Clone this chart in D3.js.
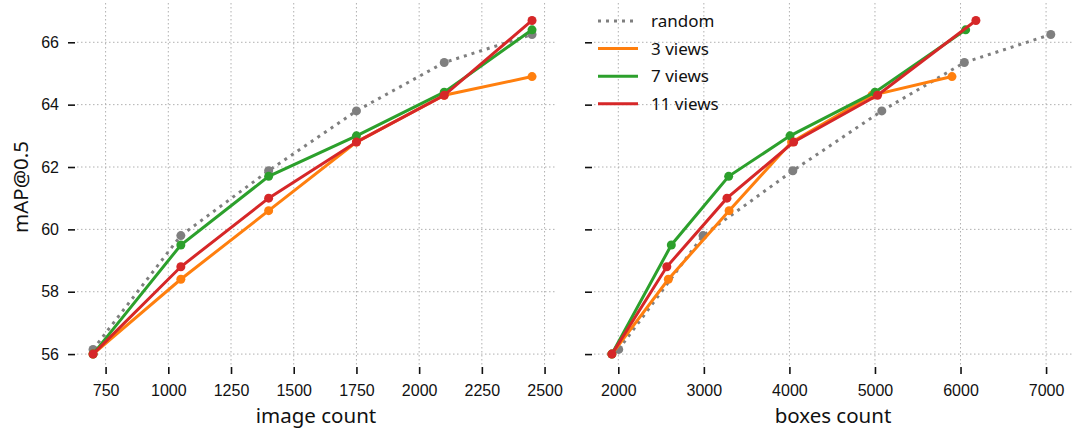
<!DOCTYPE html>
<html>
<head>
<meta charset="utf-8">
<script src="https://cdn.jsdelivr.net/npm/d3@7"></script>
<style>
  body { margin: 0; background: #fff; }
  svg { font-family: "Noto Sans", "Open Sans", sans-serif; }
</style>
</head>
<body>
<div id="wrapper"></div>
<script>
// Data
const seriesNames = ["random", "3 views", "7 views", "11 views"];
const seriesColors = ["#7f7f7f", "#ff7f0e", "#2ca02c", "#d62728"];
const imageCounts = [700, 1050, 1400, 1750, 2100, 2450];
const mapRandom = [56.15, 59.8, 61.88, 63.8, 65.35, 66.25];
const map3Views = [56.0, 58.4, 60.6, 62.8, 64.3, 64.9];
const map7Views = [56.0, 59.5, 61.7, 63.0, 64.4, 66.4];
const map11Views = [56.0, 58.8, 61.0, 62.8, 64.3, 66.7];
const boxesRandom = [2005, 2990, 4040, 5080, 6045, 7055];
const boxes3Views = [1925, 2585, 3295, 4025, 4965, 5900];
const boxes7Views = [1925, 2620, 3290, 4007, 5000, 6060];
const boxes11Views = [1925, 2567, 3270, 4050, 5030, 6180];
const yTicks = [56, 58, 60, 62, 64, 66];
const imageTicks = [750, 1000, 1250, 1500, 1750, 2000, 2250, 2500];
const boxesTicks = [2000, 3000, 4000, 5000, 6000, 7000];

const drawChart = () => {
    const width = 1073;
    const height = 437;

    const wrapper = d3.select("#wrapper")
        .append("svg")
        .attr("width", width)
        .attr("height", height);

    const yScale = d3.scaleLinear()
        .domain([55.65, 67.26])
        .range([365, 3]);

    const mapValues = [mapRandom, map3Views, map7Views, map11Views];

    const panels = [
        {
            left: 77, right: 555,
            domain: [636, 2541.6],
            ticks: imageTicks,
            label: "image count",
            xs: [imageCounts, imageCounts, imageCounts, imageCounts],
            yLabels: true,
        },
        {
            left: 594, right: 1072,
            domain: [1716, 7303],
            ticks: boxesTicks,
            label: "boxes count",
            xs: [boxesRandom, boxes3Views, boxes7Views, boxes11Views],
            yLabels: false,
        },
    ];

    panels.forEach(p => {
        const xScale = d3.scaleLinear()
            .domain(p.domain)
            .range([p.left, p.right]);

        const g = wrapper.append("g");

        // grid
        g.append("g").selectAll("line.v").data(p.ticks).join("line")
            .attr("x1", d => xScale(d)).attr("x2", d => xScale(d))
            .attr("y1", 3).attr("y2", 365)
            .attr("stroke", "#b0b0b0").attr("stroke-width", 1)
            .attr("stroke-dasharray", "1.5,2.5");
        g.append("g").selectAll("line.h").data(yTicks).join("line")
            .attr("x1", p.left).attr("x2", p.right)
            .attr("y1", d => yScale(d)).attr("y2", d => yScale(d))
            .attr("stroke", "#b0b0b0").attr("stroke-width", 1)
            .attr("stroke-dasharray", "1.5,2.5");

        // x axis
        const xAxis = g.append("g")
            .attr("transform", "translate(0, 367)")
            .call(d3.axisBottom(xScale).tickValues(p.ticks).tickSize(7).tickPadding(11).tickFormat(d3.format("d")));
        xAxis.select(".domain").remove();
        xAxis.selectAll(".tick line").attr("stroke", "#111").attr("stroke-width", 1.6);
        xAxis.selectAll(".tick text").attr("fill", "#111").style("font-size", "16px");

        // y axis
        const yAxisGenerator = d3.axisLeft(yScale).tickValues(yTicks).tickSize(7).tickPadding(9);
        if (!p.yLabels) yAxisGenerator.tickFormat("");
        const yAxis = g.append("g")
            .attr("transform", `translate(${p.left - 2}, 0)`)
            .call(yAxisGenerator);
        yAxis.select(".domain").remove();
        yAxis.selectAll(".tick line").attr("stroke", "#111").attr("stroke-width", 1.6);
        yAxis.selectAll(".tick text").attr("fill", "#111").style("font-size", "16px");

        // x label
        g.append("text")
            .attr("x", (p.left + p.right) / 2)
            .attr("y", 423)
            .attr("text-anchor", "middle")
            .attr("fill", "#111")
            .style("font-size", "20.5px")
            .text(p.label);

        // lines
        const line = d3.line()
            .x(d => xScale(d[0]))
            .y(d => yScale(d[1]));

        seriesNames.forEach((name, i) => {
            const pts = p.xs[i].map((x, j) => [x, mapValues[i][j]]);
            g.append("path")
                .datum(pts)
                .attr("d", line)
                .attr("fill", "none")
                .attr("stroke", seriesColors[i])
                .attr("stroke-width", 3)
                .attr("stroke-dasharray", i === 0 ? "3,5" : null);
            g.append("g").selectAll("circle").data(pts).join("circle")
                .attr("cx", d => xScale(d[0]))
                .attr("cy", d => yScale(d[1]))
                .attr("r", 4.5)
                .attr("fill", seriesColors[i]);
        });
    });

    // y label
    wrapper.append("text")
        .attr("transform", "translate(28, 187) rotate(-90)")
        .attr("text-anchor", "middle")
        .attr("fill", "#111")
        .style("font-size", "20.5px")
        .text("mAP@0.5");

    // legend
    const legend = wrapper.append("g")
        .attr("transform", "translate(598, 21)");
    seriesNames.forEach((name, i) => {
        const row = legend.append("g").attr("transform", `translate(0, ${i * 27.6})`);
        row.append("line")
            .attr("x1", 0).attr("x2", 40)
            .attr("stroke", seriesColors[i])
            .attr("stroke-width", 3)
            .attr("stroke-dasharray", i === 0 ? "3,5" : null);
        row.append("text")
            .attr("x", 53)
            .attr("dy", "0.35em")
            .attr("fill", "#111")
            .style("font-size", "17px")
            .text(name);
    });
};
drawChart();
</script>
</body>
</html>
